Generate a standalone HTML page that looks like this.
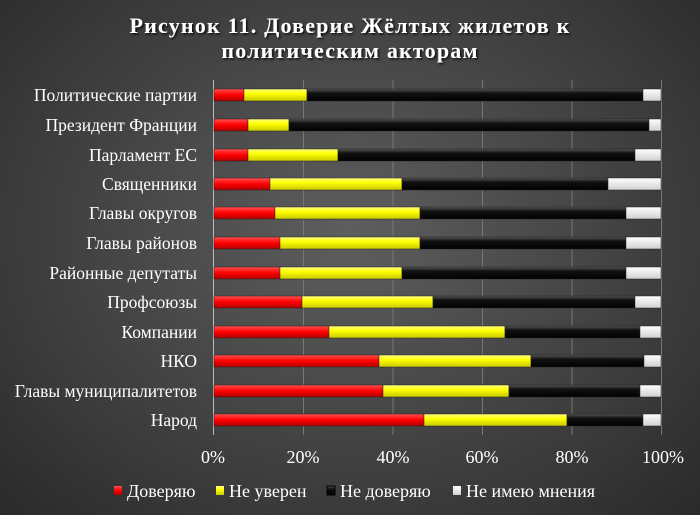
<!DOCTYPE html>
<html><head><meta charset="utf-8"><style>
html,body{margin:0;padding:0;}
body{width:700px;height:515px;overflow:hidden;background:radial-gradient(ellipse at 50% 45%,#5e5e5e 0%,#474747 45%,#2a2a2a 100%);}
svg{display:block;font-family:"Liberation Serif",serif;}
</style></head><body>
<svg width="700" height="515" xmlns="http://www.w3.org/2000/svg">
<defs>
<linearGradient id="r" x1="0" y1="0" x2="0" y2="1"><stop offset="0" stop-color="#ff5050"/><stop offset="0.5" stop-color="#ff0000"/><stop offset="1" stop-color="#b00000"/></linearGradient>
<linearGradient id="y" x1="0" y1="0" x2="0" y2="1"><stop offset="0" stop-color="#ffff80"/><stop offset="0.4" stop-color="#ffff00"/><stop offset="1" stop-color="#c8c800"/></linearGradient>
<linearGradient id="k" x1="0" y1="0" x2="0" y2="1"><stop offset="0" stop-color="#555"/><stop offset="0.35" stop-color="#111"/><stop offset="1" stop-color="#000"/></linearGradient>
<linearGradient id="w" x1="0" y1="0" x2="0" y2="1"><stop offset="0" stop-color="#fff"/><stop offset="1" stop-color="#d0d0d0"/></linearGradient>
<filter id="sh"><feDropShadow dx="1.5" dy="1.5" stdDeviation="1" flood-color="#000" flood-opacity="0.8"/></filter>
</defs>
<g fill="#fff" font-weight="bold" font-size="22" text-anchor="middle" filter="url(#sh)" letter-spacing="1.2">
<text x="350" y="33">Рисунок 11. Доверие Жёлтых жилетов к</text>
<text x="350" y="58">политическим акторам</text>
</g>
<g stroke="#777" stroke-width="1">
<line x1="303.5" y1="80" x2="303.5" y2="435"/><line x1="393" y1="80" x2="393" y2="435"/><line x1="482.5" y1="80" x2="482.5" y2="435"/><line x1="572" y1="80" x2="572" y2="435"/><line x1="661.5" y1="80" x2="661.5" y2="435"/>
</g>
<line x1="213.5" y1="80" x2="213.5" y2="435" stroke="#bbb"/>
<g id="bars" stroke="#222" stroke-width="0.5"></g>
<g fill="#fff" font-size="17.5" text-anchor="end" id="labels"></g>
<g fill="#fff" font-size="18" text-anchor="middle">
<text x="213" y="463">0%</text><text x="303" y="463">20%</text><text x="393" y="463">40%</text><text x="482" y="463">60%</text><text x="572" y="463">80%</text><text x="663" y="463">100%</text>
</g>
<g font-size="18" fill="#fff">
<rect x="114" y="486" width="8" height="9" fill="url(#r)"/><text x="127" y="497">Доверяю</text>
<rect x="216" y="486" width="8" height="9" fill="url(#y)"/><text x="229" y="497">Не уверен</text>
<rect x="327" y="486" width="8" height="9" fill="url(#k)" stroke="#000"/><text x="340" y="497">Не доверяю</text>
<rect x="453" y="486" width="8" height="9" fill="url(#w)"/><text x="466" y="497">Не имею мнения</text>
</g>
<script>
var d=[["Политические партии",95,244,307,643],["Президент Франции",125,248,289,649],["Парламент ЕС",155,248,338,635],["Священники",184,270,402,608],["Главы округов",213,275,420,626],["Главы районов",243,280,420,626],["Районные депутаты",273,280,402,626],["Профсоюзы",302,302,433,635],["Компании",332,329,505,640],["НКО",361,379,531,644],["Главы муниципалитетов",391,383,509,640],["Народ",420,424,567,643]];
var ns="http://www.w3.org/2000/svg",b=document.getElementById("bars"),l=document.getElementById("labels");
d.forEach(function(r){var xs=[214,r[2],r[3],r[4],661],f=["r","y","k","w"];
for(var i=0;i<4;i++){var e=document.createElementNS(ns,"rect");e.setAttribute("x",xs[i]);e.setAttribute("y",r[1]-6);e.setAttribute("width",xs[i+1]-xs[i]);e.setAttribute("height",12);e.setAttribute("fill","url(#"+f[i]+")");b.appendChild(e);}
var t=document.createElementNS(ns,"text");t.setAttribute("x",197);t.setAttribute("y",r[1]+6);t.textContent=r[0];l.appendChild(t);});
</script>
</svg>
</body></html>
